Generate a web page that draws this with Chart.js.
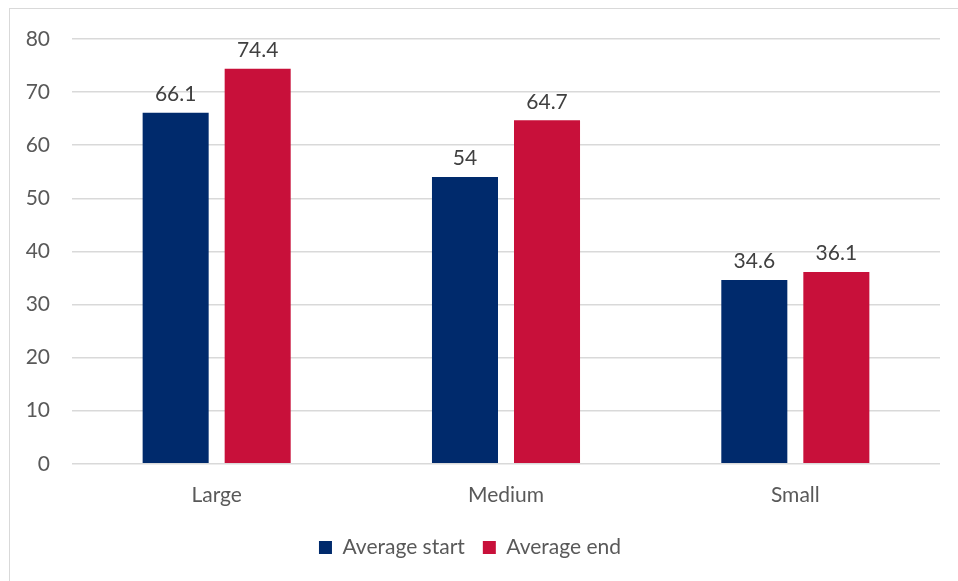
<!DOCTYPE html>
<html>
<head>
<meta charset="utf-8">
<script src="https://cdn.jsdelivr.net/npm/chart.js@4/dist/chart.umd.min.js"></script>
<style>
    html, body { margin: 0; padding: 0; background: #fff; }
    #frame {
        position: absolute; left: 9px; top: 8px; width: 960px; height: 590px;
        border: 1px solid #d9d9d9; box-sizing: border-box;
    }
    #wrap { position: absolute; left: 0; top: 0; width: 958px; height: 581px; }
</style>
</head>
<body>
<div id="frame"></div>
<div id="wrap"><canvas id="chart"></canvas></div>
<script>
const categories = ['Large', 'Medium', 'Small'];
const averageStart = [66.1, 54, 34.6];
const averageEnd = [74.4, 64.7, 36.1];
const yTicks = [0, 10, 20, 30, 40, 50, 60, 70, 80];

const fontFamily = 'Lato, "Open Sans", sans-serif';
const fontSize = 21;

// writes each bar's value just above it
const valueLabels = {
    id: 'valueLabels',
    afterDatasetsDraw(chart) {
        let ctx = chart.ctx;
        ctx.save();
        ctx.font = '21px ' + fontFamily;
        ctx.fillStyle = '#404040';
        ctx.textAlign = 'center';
        ctx.textBaseline = 'bottom';
        chart.data.datasets.forEach((ds, i) => {
            chart.getDatasetMeta(i).data.forEach((bar, j) => {
                ctx.fillText(String(ds.data[j]), bar.x, bar.y - 8);
            });
        });
        ctx.restore();
    }
};

let ctx = document.getElementById('chart').getContext('2d');
let chart = new Chart(ctx, {
    type: 'bar',
    data: {
        labels: categories,
        datasets: [
            {
                label: 'Average start',
                backgroundColor: '#002a6c',
                data: averageStart,
                categoryPercentage: 0.567,
                barPercentage: 0.805
            },
            {
                label: 'Average end',
                backgroundColor: '#c8103a',
                data: averageEnd,
                categoryPercentage: 0.567,
                barPercentage: 0.805
            }
        ]
    },
    options: {
        responsive: true,
        maintainAspectRatio: false,
        animation: false,
        layout: { padding: { left: 0, right: 18, top: 39, bottom: 13 } },
        scales: {
            x: {
                grid: { display: false },
                border: { display: false },
                ticks: { color: '#595959', font: { family: fontFamily, size: fontSize }, padding: 11 }
            },
            y: {
                min: 0,
                max: 80,
                afterBuildTicks(scale) {
                    scale.ticks = yTicks.map(v => ({ value: v }));
                },
                afterFit(scale) {
                    scale.width = 72;
                },
                grid: { color: '#d9d9d9', lineWidth: 1.5, drawTicks: false },
                border: { display: false },
                ticks: { color: '#595959', font: { family: fontFamily, size: fontSize }, padding: 22 }
            }
        },
        plugins: {
            legend: {
                position: 'bottom',
                labels: {
                    color: '#595959',
                    font: { family: fontFamily, size: fontSize },
                    boxWidth: 13,
                    boxHeight: 13,
                    padding: 18
                }
            },
            tooltip: { enabled: false }
        }
    },
    plugins: [valueLabels]
});
</script>
</body>
</html>
